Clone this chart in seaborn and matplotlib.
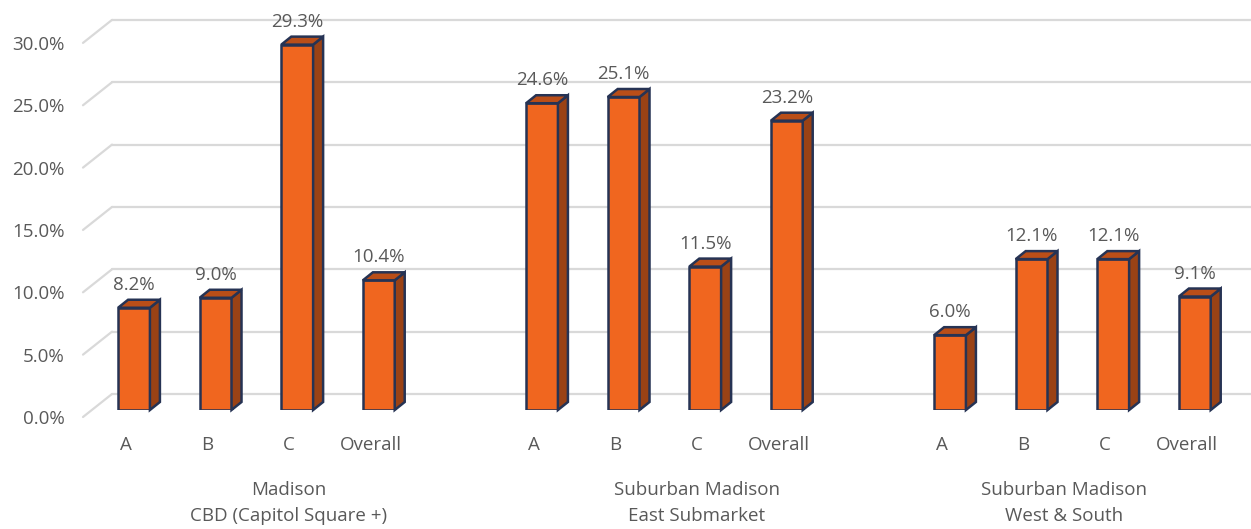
import pandas as pd
import matplotlib.pyplot as plt
import seaborn as sns
from matplotlib.patches import Polygon
from matplotlib.transforms import IdentityTransform, ScaledTranslation, blended_transform_factory

# ==============================================================================
# DATOS
# ==============================================================================
categorias = ['A', 'B', 'C', 'Overall',
              'A', 'B', 'C', 'Overall',
              'A', 'B', 'C', 'Overall']
posiciones = [0, 1, 2, 3, 5, 6, 7, 8, 10, 11, 12, 13]
valores = [8.2, 9.0, 29.3, 10.4,
           24.6, 25.1, 11.5, 23.2,
           6.0, 12.1, 12.1, 9.1]
grupo_linea1 = ['Madison', 'Suburban Madison', 'Suburban Madison']
grupo_linea2 = ['CBD (Capitol Square +)', 'East Submarket', 'West & South']
grupo_centro = [1.9, 6.9, 11.4]
ticks_y = [0, 5, 10, 15, 20, 25, 30]

# ==============================================================================
# ESTILO
# ==============================================================================
COLOR_FRENTE = '#F0661F'
COLOR_LADO   = '#9A4215'
COLOR_TAPA   = '#BA4E18'
COLOR_BORDE  = '#263354'
COLOR_GRID   = '#D9D9D9'
COLOR_TEXTO  = '#595959'
FS = 13.5

sns.set_theme(style="white")
plt.rcParams['font.family'] = ['Open Sans', 'DejaVu Sans']
plt.rcParams['text.color'] = COLOR_TEXTO

DPI = 100
W, H = 1251, 529
fig = plt.figure(figsize=(W / DPI, H / DPI), dpi=DPI)

# ejes en pixeles: izquierda 83, base de barras en y=410
ax = fig.add_axes([83 / W, (H - 410) / H, (W - 83) / W, 410 / H])
PX_POR_UNIDAD = 81.6
PX_POR_PCT = 12.47
XLIM = (-51 / PX_POR_UNIDAD, -51 / PX_POR_UNIDAD + (W - 83) / PX_POR_UNIDAD)
YLIM = (0, 410 / PX_POR_PCT)

df = pd.DataFrame({'pos': posiciones, 'valor': valores, 'cat': categorias})

sns.barplot(data=df, x='pos', y='valor', native_scale=True, width=0.39,
            color=COLOR_FRENTE, saturation=1, edgecolor=COLOR_BORDE, linewidth=1.8,
            ax=ax, zorder=3)
ax.set_xlim(*XLIM)
ax.set_ylim(*YLIM)

# ==============================================================================
# REJILLA (pared trasera)
# ==============================================================================
GRID_DY = 16   # px hacia arriba
LABEL_DY = 7   # px hacia abajo
x_pared = (112 - 83) / (W - 83)
trans_mix = blended_transform_factory(ax.transAxes, ax.transData)
for v in ticks_y:
    y_disp = ax.transData.transform((0, v))[1]
    ax.plot([x_pared, 1], [v, v], color=COLOR_GRID, lw=1.6, zorder=1, clip_on=False,
            transform=trans_mix + ScaledTranslation(0, GRID_DY / DPI, fig.dpi_scale_trans))
    linea = plt.Line2D([83, 112], [y_disp - LABEL_DY, y_disp + GRID_DY],
                       color=COLOR_GRID, lw=1.6, transform=IdentityTransform(), zorder=1)
    fig.add_artist(linea)

# ==============================================================================
# EFECTO 3D
# ==============================================================================
DX, DY = 10, 8
for barra, val in zip(ax.patches, valores):
    barra.set_zorder(3)
    x0, y0 = barra.get_x(), barra.get_y()
    x1, y1 = x0 + barra.get_width(), y0 + barra.get_height()
    (px0, py0) = ax.transData.transform((x0, y0))
    (px1, py1) = ax.transData.transform((x1, y1))
    lado = Polygon([(px1, py0), (px1, py1), (px1 + DX, py1 + DY), (px1 + DX, py0 + DY)],
                   closed=True, facecolor=COLOR_LADO, edgecolor=COLOR_BORDE, lw=1.8,
                   transform=IdentityTransform(), zorder=2.5)
    tapa = Polygon([(px0, py1), (px1, py1), (px1 + DX, py1 + DY), (px0 + DX, py1 + DY)],
                   closed=True, facecolor=COLOR_TAPA, edgecolor=COLOR_BORDE, lw=1.8,
                   transform=IdentityTransform(), zorder=2.5)
    fig.add_artist(lado)
    fig.add_artist(tapa)
    ax.annotate(f'{val:.1f}%', xy=((x0 + x1) / 2, y1), xytext=(0, 16.5),
                textcoords='offset points', ha='center', va='center',
                fontsize=FS, color=COLOR_TEXTO, zorder=4)

# ==============================================================================
# EJES Y ETIQUETAS
# ==============================================================================
ax.set_yticks(ticks_y)
ax.set_yticklabels([f'{v:.1f}%' for v in ticks_y])
ax.set_xticks(posiciones)
ax.set_xticklabels(categorias)
ax.tick_params(axis='y', length=0, pad=13, labelsize=FS, labelcolor=COLOR_TEXTO)
ax.tick_params(axis='x', length=0, pad=19, labelsize=FS, labelcolor=COLOR_TEXTO)
for lab in ax.get_yticklabels():
    lab.set_transform(lab.get_transform() + ScaledTranslation(0, -LABEL_DY / DPI, fig.dpi_scale_trans))
for lab in ax.get_xticklabels():
    lab.set_transform(lab.get_transform() + ScaledTranslation(-8 / DPI, 0, fig.dpi_scale_trans))
ax.set_xlabel('')
ax.set_ylabel('')
for s in ax.spines.values():
    s.set_visible(False)
ax.grid(False)

for gx, l1, l2 in zip(grupo_centro, grupo_linea1, grupo_linea2):
    ax.annotate(l1, xy=(gx, 0), xycoords=('data', 'axes fraction'),
                xytext=(0, -80 * 72 / DPI), textcoords='offset points',
                ha='center', va='center', fontsize=FS, color=COLOR_TEXTO)
    ax.annotate(l2, xy=(gx, 0), xycoords=('data', 'axes fraction'),
                xytext=(0, -106 * 72 / DPI), textcoords='offset points',
                ha='center', va='center', fontsize=FS, color=COLOR_TEXTO)

fig.savefig('out.png', dpi=DPI)
